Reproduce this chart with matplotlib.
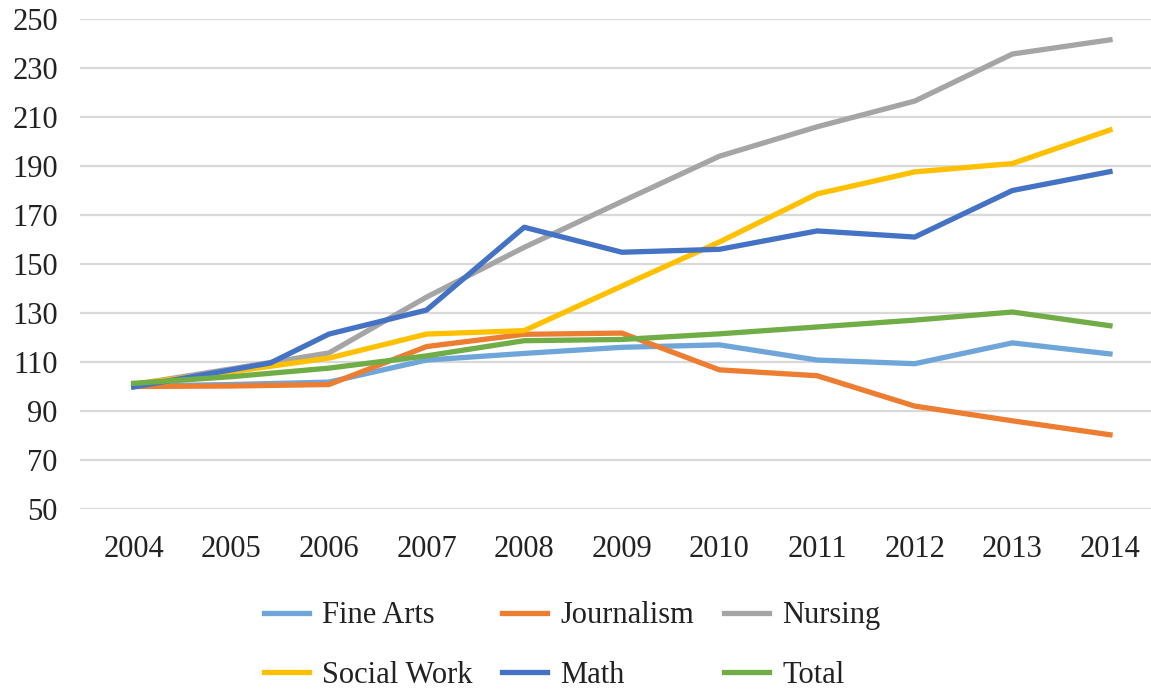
import matplotlib.pyplot as plt

years = [2004, 2005, 2006, 2007, 2008, 2009, 2010, 2011, 2012, 2013, 2014]
# Math has its early kink between 2005 and 2006
math_years = [2004, 2005.4, 2006, 2007, 2008, 2009, 2010, 2011, 2012, 2013, 2014]

fine_arts = [100.2, 100.8, 101.8, 110.8, 113.5, 116.0, 117.0, 110.8, 109.3, 117.8, 113.3]
journalism = [100.0, 100.2, 100.8, 116.3, 121.3, 121.8, 106.8, 104.4, 92.0, 86.0, 80.3]
nursing = [100.8, 107.2, 113.7, 136.5, 156.8, 175.5, 194.0, 206.0, 216.5, 235.7, 241.5]
social_work = [101.0, 106.0, 111.6, 121.4, 122.8, 141.0, 159.0, 178.6, 187.6, 191.0, 204.7]
math = [99.8, 109.6, 121.4, 131.2, 165.0, 154.8, 156.0, 163.5, 161.0, 180.0, 187.7]
total = [101.3, 104.0, 107.5, 112.5, 118.7, 119.2, 121.5, 124.3, 127.1, 130.4, 124.8]

y_ticks = [50, 70, 90, 110, 130, 150, 170, 190, 210, 230, 250]

plt.rcParams['font.family'] = ['Liberation Serif', 'DejaVu Serif']

fig = plt.figure(figsize=(11.51, 6.89), dpi=100)
ax = fig.add_axes([80 / 1151, 1 - 509 / 689, 1 - 80 / 1151, 490 / 689])

lw = 3.8
h_fa, = ax.plot(years, fine_arts, color='#6FA6DA', lw=lw, label='Fine Arts')
h_j, = ax.plot(years, journalism, color='#ED7D31', lw=lw, label='Journalism')
h_n, = ax.plot(years, nursing, color='#A5A5A5', lw=lw, label='Nursing')
h_sw, = ax.plot(years, social_work, color='#FFC000', lw=lw, label='Social Work')
h_m, = ax.plot(math_years, math, color='#4472C4', lw=lw, label='Math')
h_t, = ax.plot(years, total, color='#70AD47', lw=lw, label='Total')

ax.set_ylim(50, 250)
ax.set_xlim(2003.45, 2014.42)
ax.set_yticks(y_ticks)
ax.set_xticks(years)
ax.set_xticklabels([str(y) for y in years])
ax.grid(axis='y', color='#D9D9D9', lw=1.6)
ax.set_axisbelow(True)
for s in ax.spines.values():
    s.set_visible(False)
ax.tick_params(axis='y', length=0, pad=16, labelsize=22, labelcolor='#222222')
ax.tick_params(axis='x', length=0, pad=19, labelsize=22, labelcolor='#222222')

# legend filled column-wise, so order the handles to read row by row
handles = [h_fa, h_sw, h_j, h_m, h_n, h_t]
fig.legend(handles, [h.get_label() for h in handles], ncol=3,
           loc='center', bbox_to_anchor=(0.497, 0.063), frameon=False,
           fontsize=22, handlelength=1.47, handletextpad=0.43,
           columnspacing=0.98, labelspacing=1.0, labelcolor='#222222')

fig.savefig('out.png', dpi=100)
